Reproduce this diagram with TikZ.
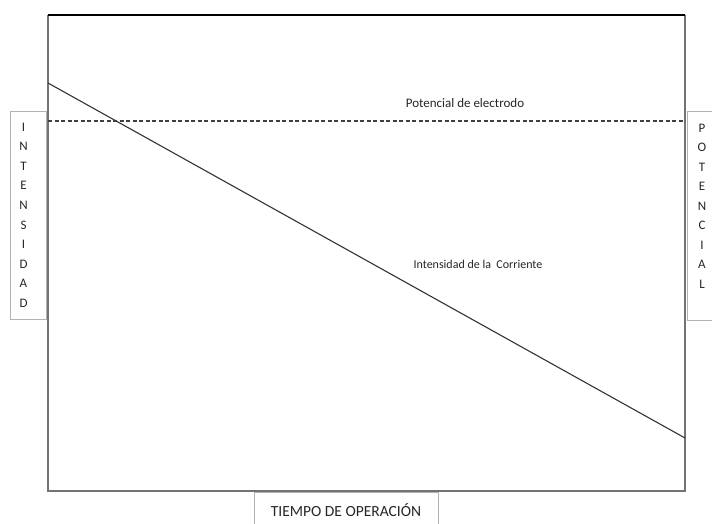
\documentclass[tikz,border=0pt]{standalone}
\usepackage{fontspec}
\setmainfont{Carlito}
\begin{document}
\begin{tikzpicture}[x=1pt,y=-1pt,
  frame/.style={draw=black!55,line width=1.3pt},
  labelbox/.style={draw=black!30,line width=0.8pt},
  letter/.style={font=\fontsize{13}{15}\selectfont,text=black!85,inner sep=0pt},
  curvelabel/.style={text=black!85,inner sep=0pt}]
  \useasboundingbox (0,0) rectangle (712,524);
  % side and bottom label boxes
  \draw[labelbox] (10,111) rectangle (46,319);
  \draw[labelbox] (687,111) rectangle (720,320);
  \draw[labelbox] (254,530) -- (254,492) -- (438,492) -- (438,530);
  % plotting frame
  \coordinate (tl) at (48,15);
  \coordinate (tr) at (685,15);
  \coordinate (br) at (685,491);
  \coordinate (bl) at (48,491);
  \draw[frame] (tr) -- (br) -- (bl) -- (tl);
  \draw[line width=1.3pt,black] (tl) -- (tr);
  % current decreasing with time
  \coordinate (c0) at (48,83);
  \coordinate (c1) at (685,438);
  \draw[line width=1.1pt,black!80] (c0) -- (c1);
  % electrode potential (constant)
  \coordinate (p0) at (48,121);
  \coordinate (p1) at (685,121);
  \draw[line width=1.1pt,black!75,dash pattern=on 4pt off 2.5pt] (p0) -- (p1);
  % curve labels
  \node[curvelabel,font=\fontsize{13}{15}\selectfont] (lp) at (465,103) {Potencial de electrodo};
  \node[curvelabel,font=\fontsize{12}{14}\selectfont] (li) at (478,264) {Intensidad de la\ \ Corriente};
  % axis titles
  \foreach \ch [count=\i from 0] in {I,N,T,E,N,S,I,D,A,D}
    \node[letter] (int\i) at (23.5,127+19.6*\i) {\ch};
  \foreach \ch [count=\i from 0] in {P,O,T,E,N,C,I,A,L}
    \node[letter] (pot\i) at (702,128+19.5*\i) {\ch};
  \node[font=\fontsize{15.5}{18}\selectfont,text=black!85,inner sep=0pt] (tiempo) at (346,510) {TIEMPO DE OPERACIÓN};
\end{tikzpicture}
\end{document}
